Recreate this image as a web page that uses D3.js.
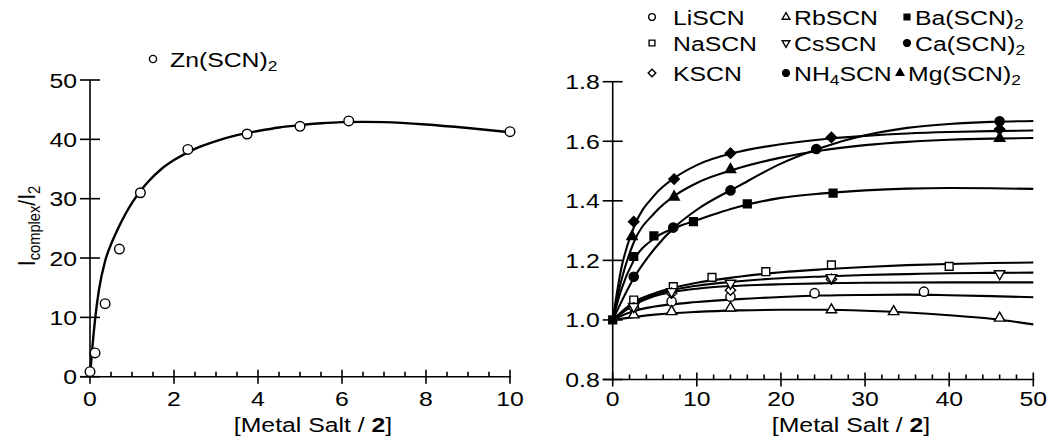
<!DOCTYPE html>
<html>
<head>
<meta charset="utf-8">
<script src="https://cdn.jsdelivr.net/npm/d3@7/dist/d3.min.js"></script>
<style>
  body { margin: 0; background: #fff; }
  svg { display: block; font-family: "Liberation Sans", Arial, Helvetica, sans-serif; }
  text { fill: #000; }
</style>
</head>
<body>
<svg id="chart" width="1053" height="441"></svg>
<script>
// ---- Left panel: Zn(SCN)2 ----
const znPoints = [[0, 0.85], [0.12, 4.0], [0.36, 12.3], [0.7, 21.5], [1.2, 31.0],
  [2.33, 38.3], [3.74, 40.9], [5.0, 42.2], [6.16, 43.1], [10, 41.3]];
const znFit = [[0, 0], [0.02, 1.8], [0.06, 5.2], [0.12, 9.6], [0.21, 14.5], [0.36, 19.5],
  [0.5, 22.3], [0.65, 24.7], [0.85, 27.5], [1.02, 29.5], [1.2, 31.3], [1.39, 32.9], [1.7, 35],
  [2, 36.5], [2.5, 38.4], [3, 39.7], [3.5, 40.7], [4, 41.4], [4.5, 42], [5, 42.4], [5.5, 42.7],
  [6, 42.9], [6.5, 42.95], [7, 42.9], [8, 42.5], [9, 41.9], [10, 41.2]];
const leftXTicks = [0, 2, 4, 6, 8, 10];
const leftYTicks = [0, 10, 20, 30, 40, 50];

// ---- Right panel: thiocyanate salts ----
const liPoints = [[2.5, 1.05], [7, 1.062], [14, 1.078], [24, 1.09], [37, 1.095]];
const liFit = [[0, 1], [2.5, 1.03], [5, 1.045], [10, 1.06], [15, 1.07], [20, 1.077], [25, 1.082],
  [30, 1.084], [35, 1.085], [40, 1.083], [45, 1.08], [50, 1.076]];
const naPoints = [[2.5, 1.067], [7.2, 1.112], [11.8, 1.143], [18.2, 1.162], [26, 1.185], [40, 1.18]];
const naFit = [[0, 1], [2.5, 1.06], [5, 1.09], [10, 1.125], [15, 1.145], [20, 1.16], [25, 1.17],
  [30, 1.178], [35, 1.184], [40, 1.188], [45, 1.191], [50, 1.193]];
const kPoints = [[2.5, 1.04], [7, 1.09], [14, 1.10], [26, 1.137]];
const kFit = [[0, 1], [2.5, 1.05], [5, 1.08], [10, 1.105], [15, 1.115], [20, 1.12], [25, 1.123],
  [30, 1.125], [40, 1.126], [50, 1.126]];
const rbPoints = [[2.5, 1.017], [7, 1.028], [14, 1.04], [26, 1.034], [33.4, 1.028], [46, 1.006]];
const rbFit = [[0, 1], [5, 1.018], [10, 1.027], [15, 1.032], [20, 1.034], [25, 1.034], [30, 1.031],
  [35, 1.025], [40, 1.016], [45, 1.004], [50, 0.985]];
const csPoints = [[2.5, 1.045], [7, 1.095], [14, 1.123], [26, 1.142], [46, 1.155]];
const csFit = [[0, 1], [2.5, 1.055], [5, 1.085], [10, 1.115], [15, 1.13], [20, 1.14], [25, 1.146],
  [30, 1.151], [35, 1.154], [40, 1.157], [45, 1.158], [50, 1.159]];
const nh4Points = [[2.5, 1.145], [7.2, 1.31], [14, 1.435], [24.2, 1.574], [46, 1.667]];
const nh4Fit = [[0, 1], [2.5, 1.14], [5, 1.24], [7.5, 1.315], [10, 1.37], [15, 1.45], [20, 1.525],
  [25, 1.58], [30, 1.62], [35, 1.645], [40, 1.658], [45, 1.665], [50, 1.668]];
const baPoints = [[0, 1], [2.5, 1.213], [4.9, 1.282], [9.6, 1.33], [16, 1.39], [26.2, 1.426]];
const baFit = [[0, 1], [1, 1.1], [2.5, 1.2], [5, 1.275], [7.5, 1.31], [10, 1.335], [15, 1.38],
  [20, 1.41], [25, 1.425], [30, 1.435], [35, 1.441], [40, 1.443], [45, 1.442], [50, 1.44]];
const caPoints = [[2.5, 1.33], [7.3, 1.473], [14, 1.56], [26, 1.613], [46, 1.64]];
const caFit = [[0, 1], [1, 1.17], [2.5, 1.31], [5, 1.42], [7.5, 1.48], [10, 1.52], [15, 1.565],
  [20, 1.59], [25, 1.607], [30, 1.618], [35, 1.626], [40, 1.631], [45, 1.634], [50, 1.636]];
const mgPoints = [[2.3, 1.28], [7.3, 1.413], [14, 1.505], [46, 1.61]];
const mgFit = [[0, 1], [1, 1.13], [2.5, 1.26], [5, 1.36], [7.5, 1.42], [10, 1.46], [15, 1.51],
  [20, 1.545], [25, 1.57], [30, 1.587], [35, 1.598], [40, 1.605], [45, 1.609], [50, 1.611]];
const rightXTicks = [0, 10, 20, 30, 40, 50];
const rightYTicks = [0.8, 1.0, 1.2, 1.4, 1.6, 1.8];

// legend order: columns top to bottom
const saltNames = ["LiSCN", "NaSCN", "KSCN", "RbSCN", "CsSCN", "NH4SCN", "Ba(SCN)2", "Ca(SCN)2", "Mg(SCN)2"];
const saltMarkers = ["circle", "square", "diamond", "triangle", "triangleDown", "circleFilled", "squareFilled", "circleFilled", "triangleFilled"];
// marker used in the plot (the Ca curve is drawn with solid diamonds)
const plotMarkers = ["circle", "square", "diamond", "triangle", "triangleDown", "circleFilled", "squareFilled", "diamondFilled", "triangleFilled"];
const saltPoints = [liPoints, naPoints, kPoints, rbPoints, csPoints, nh4Points, baPoints, caPoints, mgPoints];
const saltFits = [liFit, naFit, kFit, rbFit, csFit, nh4Fit, baFit, caFit, mgFit];

const FONT = 21;
const SX = 1.18;   // the scanned figure is stretched sideways

const svg = d3.select("#chart");

// chemistry text: digits become subscripts
function chemParts(str) {
  return str.split(/(\d+)/).filter(s => s !== "").map(s => ({ t: s, sub: /^\d+$/.test(s) }));
}

function addText(parent, x, y, parts, opts = {}) {
  const { anchor = "start", size = FONT, rotate = 0 } = opts;
  const g = parent.append("g")
    .attr("transform", `translate(${x},${y}) scale(${SX},1)` + (rotate ? ` rotate(${rotate})` : ""));
  const t = g.append("text").attr("text-anchor", anchor).attr("font-size", size);
  let shifted = false;
  parts.forEach(p => {
    const ts = t.append("tspan").text(p.t);
    if (p.sub && !shifted) { ts.attr("dy", "0.3em").attr("font-size", size * 0.7); shifted = true; }
    else if (!p.sub && shifted) { ts.attr("dy", `${-0.3 * 0.7}em`); shifted = false; }
    else if (p.sub) ts.attr("font-size", size * 0.7);
    if (p.bold) ts.attr("font-weight", "bold");
  });
  return t;
}

function drawMarker(parent, type, x, y, r) {
  const filled = type.endsWith("Filled");
  const base = type.replace("Filled", "");
  let sym, rot = 0, size;
  if (base === "circle") { sym = d3.symbolCircle; size = Math.PI * r * r; }
  else if (base === "square") { sym = d3.symbolSquare; size = (1.7 * r) * (1.7 * r); }
  else if (base === "diamond") { sym = d3.symbolSquare; size = (1.6 * r) * (1.6 * r); rot = 45; }
  else if (base === "triangle") { sym = d3.symbolTriangle; size = 2.2 * r * r; }
  else { sym = d3.symbolTriangle; size = 2.2 * r * r; rot = 180; }
  parent.append("path")
    .attr("d", d3.symbol().type(sym).size(size)())
    .attr("transform", `translate(${x},${y}) rotate(${rot})`)
    .attr("fill", filled ? "#000" : "#fff")
    .attr("stroke", "#000")
    .attr("stroke-width", 1.4);
}

function drawFrame(x, y, xTicks, yTicks, xMinorStep, fmtY, xExtra) {
  const g = svg.append("g").attr("stroke", "#000").attr("stroke-width", 1.6);
  const [xa, xb] = x.range();
  const [ya, yb] = y.range();
  g.append("line").attr("x1", xa - xExtra).attr("x2", xb + 1).attr("y1", ya).attr("y2", ya);
  g.append("line").attr("x1", xa).attr("x2", xa).attr("y1", yb).attr("y2", ya + 1);
  // x ticks: majors cross the axis, minors point up
  const [d0, d1] = x.domain();
  d3.range(d0, d1 + 1e-9, xMinorStep).forEach(v => {
    const major = xTicks.some(t => Math.abs(t - v) < 1e-9);
    g.append("line").attr("x1", x(v)).attr("x2", x(v))
      .attr("y1", ya - (major ? 7 : 5)).attr("y2", ya + (major ? 7 : 0));
  });
  yTicks.forEach(v => {
    g.append("line").attr("x1", xa - 10).attr("x2", xa + 10).attr("y1", y(v)).attr("y2", y(v));
  });
  xTicks.forEach(v => addText(svg, x(v), 406, [{ t: String(v) }], { anchor: "middle" }));
  yTicks.forEach(v => addText(svg, xa - 13, y(v) + 7.5, [{ t: fmtY(v) }], { anchor: "end" }));
}

function drawCurve(x, y, pts, width) {
  svg.append("path")
    .datum(pts)
    .attr("fill", "none")
    .attr("stroke", "#000")
    .attr("stroke-width", width)
    .attr("d", d3.line().x(d => x(d[0])).y(d => y(d[1])).curve(d3.curveMonotoneX));
}

// ---- left panel ----
const xL = d3.scaleLinear().domain([0, 10]).range([90, 510]);
const yL = d3.scaleLinear().domain([0, 50]).range([376.7, 80]);
drawFrame(xL, yL, leftXTicks, leftYTicks, 0.5, d => String(d), 10);
drawCurve(xL, yL, znFit, 2.4);
znPoints.forEach(d => drawMarker(svg, "circle", xL(d[0]), yL(d[1]), 4.8));
drawMarker(svg, "circle", 153, 59, 3.6);
addText(svg, 170, 66.5, chemParts("Zn(SCN)2"));
addText(svg, 35, 226, [{ t: "I" }, { t: "complex", sub: true }, { t: "/I" }, { t: "2", sub: true }],
  { anchor: "middle", rotate: -90 });
addText(svg, 313, 432, [{ t: "[Metal Salt / " }, { t: "2", bold: true }, { t: "]" }], { anchor: "middle" });

// ---- right panel ----
const xR = d3.scaleLinear().domain([0, 50]).range([612.7, 1033.3]);
const yR = d3.scaleLinear().domain([0.8, 1.8]).range([379.5, 81.7]);
drawFrame(xR, yR, rightXTicks, rightYTicks, 2, d3.format(".1f"), 10);
saltFits.forEach(f => drawCurve(xR, yR, f, 2.1));
saltPoints.forEach((pts, i) => {
  pts.forEach(d => drawMarker(svg, plotMarkers[i], xR(d[0]), yR(d[1]), 4.6));
});
addText(svg, 851, 432, [{ t: "[Metal Salt / " }, { t: "2", bold: true }, { t: "]" }], { anchor: "middle" });

// legend: 3 columns x 3 rows
const legMarkerX = [652, 786, 907];
const legTextX = [673, 794, 915];
const legRowY = [17, 43, 73];
saltNames.forEach((name, i) => {
  const col = Math.floor(i / 3), row = i % 3;
  const shift = name === "Mg(SCN)2" ? -7 : 0;
  drawMarker(svg, saltMarkers[i], legMarkerX[col] + shift, legRowY[row], 3.4);
  addText(svg, legTextX[col] + shift, legRowY[row] + 7.5, chemParts(name));
});
</script>
</body>
</html>
